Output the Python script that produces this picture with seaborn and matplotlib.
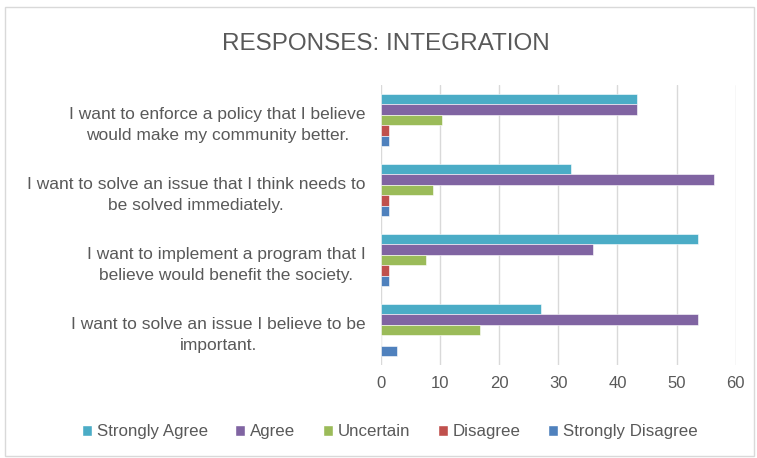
import matplotlib
matplotlib.use("Agg")
import matplotlib.pyplot as plt
from matplotlib.patches import Rectangle
import seaborn as sns
import pandas as pd

statements = [
    "I want to enforce a policy that I believe\nwould make my community better.",
    "I want to solve an issue that I think needs to\nbe solved immediately.",
    "I want to implement a program that I\nbelieve would benefit the society.",
    "I want to solve an issue I believe to be\nimportant.",
]
responses = ["Strongly Agree", "Agree", "Uncertain", "Disagree", "Strongly Disagree"]
strongly_agree = [43.3, 32.1, 53.6, 27.0]
agree = [43.3, 56.3, 35.8, 53.6]
uncertain = [10.3, 8.9, 7.6, 16.7]
disagree = [1.35, 1.35, 1.35, 0.0]
strongly_disagree = [1.35, 1.35, 1.35, 2.7]
colors = ["#4BACC6", "#8064A2", "#9BBB59", "#C0504D", "#4F81BD"]
x_ticks = [0, 10, 20, 30, 40, 50, 60]

series = [strongly_agree, agree, uncertain, disagree, strongly_disagree]
rows = []
for resp, vals in zip(responses, series):
    for st, v in zip(statements, vals):
        rows.append({"statement": st, "response": resp, "value": v})
df = pd.DataFrame(rows)

sns.set_theme(style="white")
plt.rcParams["font.family"] = ["Liberation Sans", "DejaVu Sans"]
text_color = "#595959"

fig = plt.figure(figsize=(7.57, 4.58), dpi=100)
ax = fig.add_axes([0.503, 0.203, 0.469, 0.611])

sns.barplot(data=df, y="statement", x="value", hue="response", orient="h",
            order=statements, hue_order=responses, palette=colors, saturation=1,
            width=0.75, ax=ax, edgecolor="white", linewidth=0.4, legend=True)

ax.set_xlim(0, 60)
ax.set_xticks(x_ticks)
ax.set_xlabel("")
ax.set_ylabel("")
ax.grid(axis="x", color="#D9D9D9", linewidth=1)
ax.grid(axis="y", visible=False)
ax.set_axisbelow(True)
for s in ax.spines.values():
    s.set_visible(False)
ax.tick_params(axis="x", colors=text_color, labelsize=12, length=0, pad=8)
ax.tick_params(axis="y", colors=text_color, labelsize=12.5, length=0, pad=11)
for lbl in ax.get_yticklabels():
    lbl.set_horizontalalignment("right")
    lbl.set_multialignment("center")
    lbl.set_linespacing(1.5)

ax.legend_.remove()
handles = [Rectangle((0, 0), 1, 1, facecolor=c) for c in colors]
fig.legend(handles, responses, loc="center", bbox_to_anchor=(0.515, 0.057),
           ncol=5, frameon=False, fontsize=12.2, labelcolor=text_color,
           handlelength=0.6, handleheight=0.6, handletextpad=0.3, columnspacing=1.6)

fig.text(0.51, 0.905, "RESPONSES: INTEGRATION", ha="center", va="center",
         fontsize=17.5, color=text_color)

fig.patches.append(Rectangle((0.006, 0.004), 0.99, 0.981, transform=fig.transFigure,
                             fill=False, edgecolor="#D9D9D9", linewidth=1))

fig.savefig("out.png", dpi=100, facecolor="white")
